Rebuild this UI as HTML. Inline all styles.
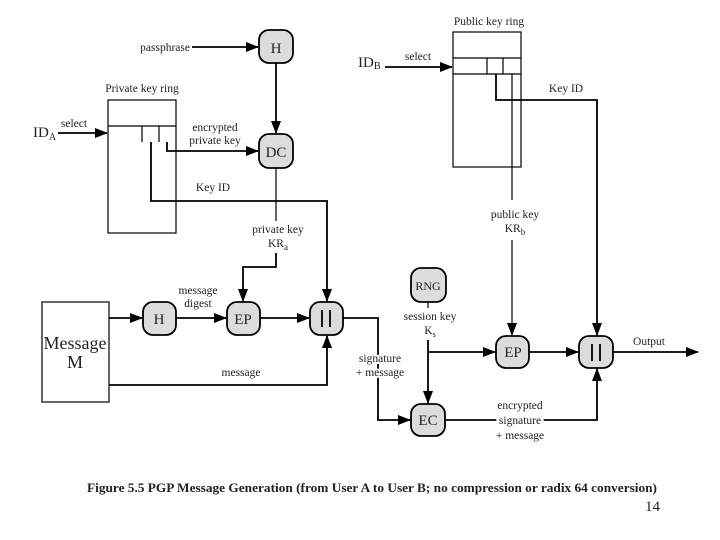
<!DOCTYPE html>
<html><head><meta charset="utf-8"><style>
html,body{margin:0;padding:0;background:#fff;}
svg{display:block;}
text{font-family:"Liberation Serif",serif;fill:#222;}
.n{fill:#dcdcdc;stroke:#000;stroke-width:1.8;}
.l{fill:none;stroke:#000;stroke-width:1.8;}
.t{stroke:#000;stroke-width:1.2;fill:none;}
.b{stroke:#000;stroke-width:1.8;}
.s{font-size:11.5px;}
.m{font-size:15px;}
</style></head><body>
<svg width="720" height="540" viewBox="0 0 720 540" xmlns="http://www.w3.org/2000/svg">
<defs><marker id="a" markerWidth="13" markerHeight="10" refX="12" refY="5" orient="auto" markerUnits="userSpaceOnUse"><path d="M0,0 L13,5 L0,10 z" fill="#000"/></marker></defs>

<!-- private key ring -->
<rect x="108" y="100" width="68" height="133" class="t"/>
<line x1="108" y1="126" x2="176" y2="126" class="t"/>
<line x1="142" y1="126" x2="142" y2="142" class="t"/>
<line x1="159" y1="126" x2="159" y2="142" class="t"/>
<text x="142" y="92" class="s" text-anchor="middle">Private key ring</text>
<text x="33" y="137" class="m">ID<tspan font-size="10" dy="3">A</tspan></text>
<text x="74" y="127" class="s" text-anchor="middle">select</text>
<line x1="58" y1="133" x2="107" y2="133" class="l" marker-end="url(#a)"/>

<!-- H, DC -->
<text x="190" y="51" class="s" text-anchor="end">passphrase</text>
<line x1="192" y1="47" x2="258" y2="47" class="l" marker-end="url(#a)"/>
<rect x="259" y="30" width="34" height="33" rx="10" class="n"/>
<text x="276" y="53" class="m" text-anchor="middle">H</text>
<line x1="276" y1="63" x2="276" y2="133" class="l" marker-end="url(#a)"/>
<rect x="259" y="134" width="34" height="34" rx="10" class="n"/>
<text x="276" y="157" class="m" text-anchor="middle">DC</text>
<polyline points="167,142 167,151 258,151" class="l" marker-end="url(#a)"/>
<text x="215" y="131" class="s" text-anchor="middle">encrypted</text>
<text x="215" y="144" class="s" text-anchor="middle">private key</text>
<polyline points="151,142 151,201 327,201 327,301" class="l" marker-end="url(#a)"/>
<text x="213" y="191" class="s" text-anchor="middle">Key ID</text>
<line x1="276" y1="168" x2="276" y2="221" class="t"/>
<text x="278" y="233" class="s" text-anchor="middle">private key</text>
<text x="278" y="247" class="s" text-anchor="middle">KR<tspan font-size="9" dy="3">a</tspan></text>
<polyline points="276,253 276,267 243,267 243,301" class="l" marker-end="url(#a)"/>

<!-- bottom left -->
<rect x="42" y="302" width="67" height="100" class="t"/>
<text x="75" y="349" font-size="18" text-anchor="middle">Message</text>
<text x="75" y="368" font-size="18" text-anchor="middle">M</text>
<line x1="109" y1="318" x2="142" y2="318" class="l" marker-end="url(#a)"/>
<rect x="143" y="302" width="33" height="33" rx="10" class="n"/>
<text x="159" y="324" class="m" text-anchor="middle">H</text>
<line x1="176" y1="318" x2="226" y2="318" class="l" marker-end="url(#a)"/>
<text x="198" y="294" class="s" text-anchor="middle">message</text>
<text x="198" y="307" class="s" text-anchor="middle">digest</text>
<rect x="227" y="302" width="33" height="33" rx="10" class="n"/>
<text x="243" y="324" class="m" text-anchor="middle">EP</text>
<line x1="260" y1="318" x2="309" y2="318" class="l" marker-end="url(#a)"/>
<rect x="310" y="302" width="33" height="33" rx="10" class="n"/>
<line x1="322" y1="310" x2="322" y2="327" class="b"/>
<line x1="330" y1="310" x2="330" y2="327" class="b"/>
<polyline points="109,385 327,385 327,336" class="l" marker-end="url(#a)"/>
<text x="241" y="376" class="s" text-anchor="middle">message</text>
<polyline points="343,318 378,318 378,420 410,420" class="l" marker-end="url(#a)"/>
<text x="380" y="362" class="s" text-anchor="middle" style="paint-order:stroke" stroke="#fff" stroke-width="4">signature</text>
<text x="380" y="376" class="s" text-anchor="middle" style="paint-order:stroke" stroke="#fff" stroke-width="4">+ message</text>

<!-- public key ring -->
<rect x="453" y="32" width="68" height="135" class="t"/>
<line x1="453" y1="58" x2="521" y2="58" class="t"/>
<line x1="453" y1="74" x2="521" y2="74" class="t"/>
<line x1="487" y1="58" x2="487" y2="74" class="t"/>
<line x1="503" y1="58" x2="503" y2="74" class="t"/>
<text x="489" y="25" class="s" text-anchor="middle">Public key ring</text>
<text x="358" y="67" class="m">ID<tspan font-size="10" dy="2">B</tspan></text>
<text x="418" y="60" class="s" text-anchor="middle">select</text>
<line x1="385" y1="67" x2="452" y2="67" class="l" marker-end="url(#a)"/>
<polyline points="496,74 496,100 597,100 597,335" class="l" marker-end="url(#a)"/>
<text x="566" y="92" class="s" text-anchor="middle">Key ID</text>
<line x1="512" y1="74" x2="512" y2="200" class="t"/>
<text x="515" y="218" class="s" text-anchor="middle">public key</text>
<text x="515" y="232" class="s" text-anchor="middle">KR<tspan font-size="9" dy="3">b</tspan></text>
<line x1="512" y1="240" x2="512" y2="335" class="t" marker-end="url(#a)"/>

<!-- bottom right -->
<rect x="411" y="268" width="35" height="34" rx="10" class="n"/>
<text x="428" y="290" font-size="12" text-anchor="middle">RNG</text>
<line x1="428" y1="302" x2="428" y2="308" class="t"/>
<text x="430" y="320" class="s" text-anchor="middle">session key</text>
<text x="430" y="334" class="s" text-anchor="middle">K<tspan font-size="8" dy="3">s</tspan></text>
<line x1="428" y1="340" x2="428" y2="403" class="l" marker-end="url(#a)"/>
<line x1="428" y1="352" x2="495" y2="352" class="l" marker-end="url(#a)"/>
<rect x="496" y="336" width="33" height="32" rx="10" class="n"/>
<text x="513" y="357" class="m" text-anchor="middle">EP</text>
<line x1="529" y1="352" x2="578" y2="352" class="l" marker-end="url(#a)"/>
<rect x="579" y="336" width="34" height="32" rx="10" class="n"/>
<line x1="592" y1="344" x2="592" y2="361" class="b"/>
<line x1="600" y1="344" x2="600" y2="361" class="b"/>
<line x1="613" y1="352" x2="698" y2="352" class="l" marker-end="url(#a)"/>
<text x="649" y="345" class="s" text-anchor="middle">Output</text>
<rect x="411" y="404" width="34" height="32" rx="10" class="n"/>
<text x="428" y="425" class="m" text-anchor="middle">EC</text>
<polyline points="445,420 597,420 597,369" class="l" marker-end="url(#a)"/>
<text x="520" y="409" class="s" text-anchor="middle" style="paint-order:stroke" stroke="#fff" stroke-width="4">encrypted</text>
<text x="520" y="424" class="s" text-anchor="middle" style="paint-order:stroke" stroke="#fff" stroke-width="6">signature</text>
<text x="520" y="439" class="s" text-anchor="middle">+ message</text>

<text x="87" y="492" font-size="12.5" font-weight="bold" textLength="570" lengthAdjust="spacingAndGlyphs">Figure 5.5   PGP Message Generation (from User A to User B; no compression or radix 64 conversion)</text>
<text x="645" y="511" font-size="15">14</text>
</svg>
</body></html>
